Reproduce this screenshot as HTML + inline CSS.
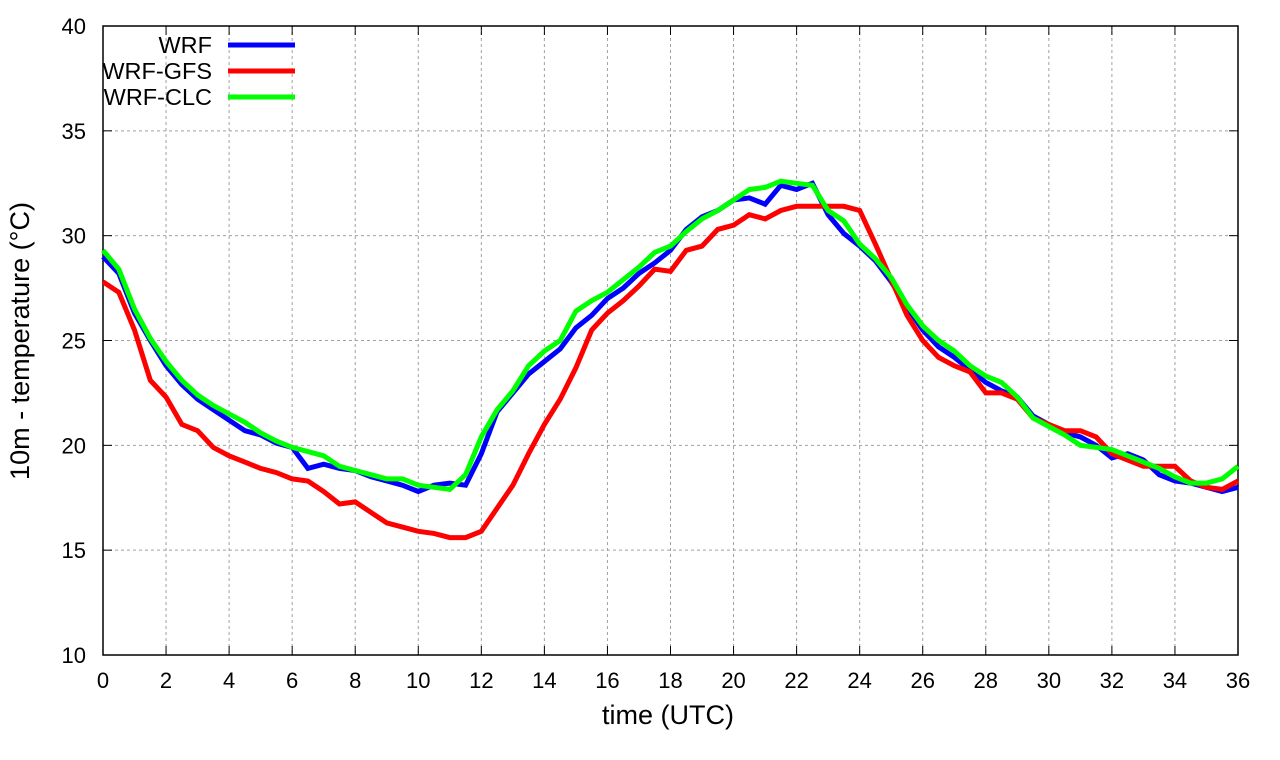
<!DOCTYPE html>
<html><head><meta charset="utf-8"><style>
body{margin:0;background:#fff}
svg{display:block;font-family:"Liberation Sans",sans-serif}
</style></head><body>
<svg id="chart" width="1280" height="760" viewBox="0 0 1280 760"></svg>
<script>
const hours=[];for(let i=0;i<=72;i++)hours.push(i*0.5);
const wrf=[29.0,28.2,26.3,25.0,23.8,22.9,22.2,21.7,21.2,20.7,20.5,20.1,19.9,18.9,19.1,18.9,18.8,18.5,18.3,18.1,17.8,18.1,18.2,18.1,19.6,21.6,22.5,23.4,24.0,24.6,25.6,26.2,27.0,27.5,28.2,28.7,29.3,30.3,30.9,31.2,31.7,31.8,31.5,32.4,32.2,32.5,31.0,30.1,29.5,28.8,27.8,26.6,25.5,24.7,24.2,23.6,23.0,22.6,22.3,21.4,21.0,20.6,20.4,20.0,19.4,19.6,19.3,18.6,18.3,18.2,18.0,17.8,18.0];
const gfs=[27.8,27.3,25.5,23.1,22.3,21.0,20.7,19.9,19.5,19.2,18.9,18.7,18.4,18.3,17.8,17.2,17.3,16.8,16.3,16.1,15.9,15.8,15.6,15.6,15.9,17.0,18.1,19.6,21.0,22.2,23.7,25.5,26.3,26.9,27.6,28.4,28.3,29.3,29.5,30.3,30.5,31.0,30.8,31.2,31.4,31.4,31.4,31.4,31.2,29.6,27.9,26.2,25.0,24.2,23.8,23.5,22.5,22.5,22.2,21.3,21.0,20.7,20.7,20.4,19.6,19.3,19.0,19.0,19.0,18.3,18.0,17.9,18.3];
const clc=[29.3,28.4,26.5,25.1,24.0,23.1,22.4,21.9,21.5,21.1,20.6,20.2,19.9,19.7,19.5,19.0,18.8,18.6,18.4,18.4,18.1,18.0,17.9,18.6,20.4,21.7,22.6,23.8,24.5,25.0,26.4,26.9,27.3,27.9,28.5,29.2,29.5,30.2,30.8,31.2,31.7,32.2,32.3,32.6,32.5,32.4,31.2,30.7,29.6,28.9,28.0,26.7,25.7,25.0,24.5,23.8,23.3,23.0,22.3,21.3,20.9,20.5,20.0,19.9,19.8,19.5,19.2,18.9,18.5,18.2,18.2,18.4,19.0];
const xTicks=[0,2,4,6,8,10,12,14,16,18,20,22,24,26,28,30,32,34,36];
const yTicks=[10,15,20,25,30,35,40];
const seriesNames=["WRF","WRF-GFS","WRF-CLC"];
const L=103,R=1238,T=26,B=655;
const X=v=>L+(v-0)/36*(R-L);
const Y=v=>B-(v-10)/30*(B-T);
const svg=document.getElementById('chart');
const NS='http://www.w3.org/2000/svg';
function mk(t,a,p){const e=document.createElementNS(NS,t);for(const k in a)e.setAttribute(k,a[k]);(p||svg).appendChild(e);return e;}
let e;
yTicks.forEach(v=>{
 if(v>10&&v<40){e=mk('line',{x1:L,x2:R,y1:Y(v),y2:Y(v),stroke:'#a0a0a0','stroke-dasharray':'3,3'});
 }
 e=mk('line',{x1:L,x2:L+9,y1:Y(v),y2:Y(v),stroke:'#000'});
 e=mk('line',{x1:R-9,x2:R,y1:Y(v),y2:Y(v),stroke:'#000'});
 e=mk('text',{x:L-17,y:Y(v)+8,'text-anchor':'end','font-size':22});e.textContent=v;
 
});
xTicks.forEach(v=>{
 if(v>0&&v<36){e=mk('line',{x1:X(v),x2:X(v),y1:T,y2:B,stroke:'#a0a0a0','stroke-dasharray':'3,3'});
 }
 e=mk('line',{x1:X(v),x2:X(v),y1:B,y2:B-9,stroke:'#000'});
 e=mk('line',{x1:X(v),x2:X(v),y1:T,y2:T+9,stroke:'#000'});
 e=mk('text',{x:X(v),y:B+33,'text-anchor':'middle','font-size':22});e.textContent=v;
 
});
e=mk('rect',{x:L,y:T,width:R-L,height:B-T,fill:'none',stroke:'#000','stroke-width':1.5});

const series=[[wrf,'#0000ff'],[gfs,'#ff0000'],[clc,'#00ff00']];
series.forEach(([d,c],i)=>{
 const pts=d.map((v,j)=>X(hours[j]).toFixed(1)+','+Y(v).toFixed(1)).join(' ');
 e=mk('polyline',{points:pts,fill:'none',stroke:c,'stroke-width':5,'stroke-linejoin':'miter'});
 
 const ly=45+i*26;
 e=mk('text',{x:212,y:ly+8,'text-anchor':'end','font-size':23.5});e.textContent=seriesNames[i];
 
 e=mk('line',{x1:228,x2:295,y1:ly,y2:ly,stroke:c,'stroke-width':5});
 
});
e=mk('text',{x:668,y:724,'text-anchor':'middle','font-size':27});e.textContent='time (UTC)';

e=mk('text',{x:0,y:0,'text-anchor':'middle','font-size':27,transform:'translate(29,341) rotate(-90)'});e.textContent='10m - temperature (°C)';

</script>
</body></html>
